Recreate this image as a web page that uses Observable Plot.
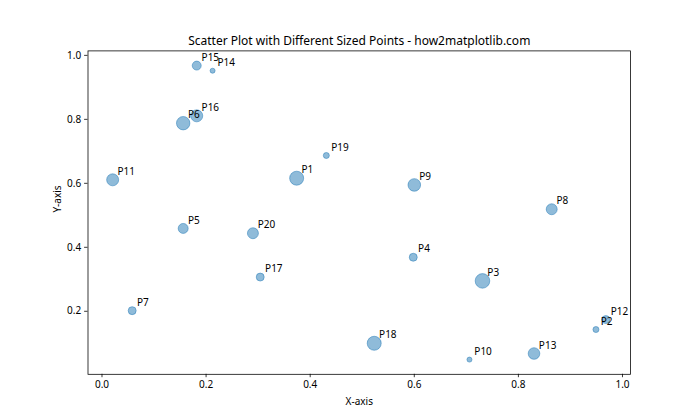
<!DOCTYPE html>
<html>
<head>
<meta charset="utf-8">
<script src="https://cdn.jsdelivr.net/npm/d3@7"></script>
<script src="https://cdn.jsdelivr.net/npm/@observablehq/plot@0.6"></script>
<style>
  html, body { margin: 0; padding: 0; background: #fff; }
  #chart svg { display: block; }
</style>
</head>
<body>
<div id="chart"></div>
<script>
// ---- data ----
const labels = ["P1","P2","P3","P4","P5","P6","P7","P8","P9","P10",
                "P11","P12","P13","P14","P15","P16","P17","P18","P19","P20"];
const xValues = [0.374, 0.949, 0.731, 0.598, 0.156, 0.156, 0.058, 0.864, 0.600, 0.706,
                 0.0205, 0.968, 0.830, 0.2125, 0.182, 0.182, 0.304, 0.523, 0.431, 0.290];
const yValues = [0.616, 0.143, 0.295, 0.369, 0.459, 0.788, 0.202, 0.519, 0.595, 0.049,
                 0.611, 0.174, 0.068, 0.952, 0.968, 0.811, 0.307, 0.100, 0.687, 0.444];
const sizes = [163, 30, 177, 53, 83, 149, 53, 100, 132, 21,
               120, 53, 112, 21, 67, 120, 53, 163, 30, 100];
const xTicks = [0.0, 0.2, 0.4, 0.6, 0.8, 1.0];
const yTicks = [0.2, 0.4, 0.6, 0.8, 1.0];
const titleText = "Scatter Plot with Different Sized Points - how2matplotlib.com";
const xLabel = "X-axis";
const yLabel = "Y-axis";

const data = labels.map((label, i) => ({label, x: xValues[i], y: yValues[i], s: sizes[i]}));

// matplotlib-like 5% autoscale margins
function padded(vals) {
  const [a, b] = d3.extent(vals);
  const m = (b - a) * 0.05;
  return [a - m, b + m];
}

const font = "'Noto Sans', 'Open Sans', sans-serif";
const px = 70 / 72; // points -> pixels (figure dpi 70)
const color = "#1f77b4";

const chart = Plot.plot({
  width: 700,
  height: 420,
  marginLeft: 87.5,
  marginRight: 70,
  marginTop: 50.4,
  marginBottom: 46.2,
  style: {fontFamily: font, fontSize: "10px", color: "#000", background: "#fff"},
  x: {domain: padded(xValues)},
  y: {domain: padded(yValues)},
  r: {type: "sqrt", domain: [0, 200], range: [0, px * Math.sqrt(200 / Math.PI)]},
  marks: [
    Plot.dot(data, {
      x: "x", y: "y", r: "s",
      fill: color, fillOpacity: 0.5,
      stroke: color, strokeOpacity: 0.5, strokeWidth: px
    }),
    Plot.text(data, {
      x: "x", y: "y", text: "label",
      dx: 5 * px, dy: -5 * px,
      textAnchor: "start", lineAnchor: "bottom",
      fontSize: 10, fill: "#000"
    }),
    Plot.axisX(xTicks, {
      tickSize: 3.5 * px, tickPadding: 3.5 * px, tickFormat: d3.format(".1f"),
      label: null, fontSize: 10, strokeWidth: 0.8 * px
    }),
    Plot.axisY(yTicks, {
      tickSize: 3.5 * px, tickPadding: 3.5 * px, tickFormat: d3.format(".1f"),
      label: null, fontSize: 10, strokeWidth: 0.8 * px
    }),
    Plot.frame({stroke: "#000", strokeWidth: 0.8 * px}),
    Plot.text([titleText], {
      frameAnchor: "top", dy: -6 * px, lineAnchor: "bottom",
      fontSize: 12, fill: "#000"
    }),
    Plot.text([xLabel], {
      frameAnchor: "bottom", dy: 27, lineAnchor: "middle",
      fontSize: 10, fill: "#000"
    }),
    Plot.text([yLabel], {
      frameAnchor: "left", dx: -30.5, rotate: -90, lineAnchor: "middle",
      fontSize: 10, fill: "#000"
    })
  ]
});

document.getElementById("chart").appendChild(chart);
</script>
</body>
</html>
